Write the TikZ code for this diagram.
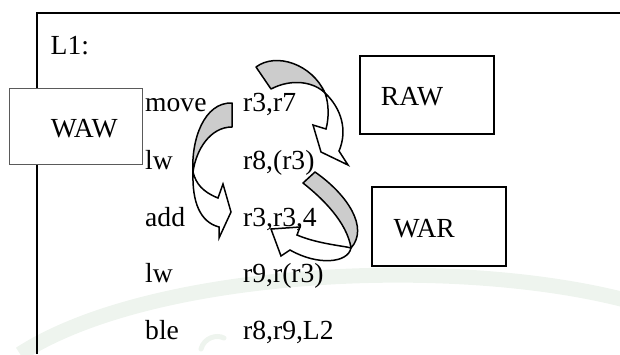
\documentclass[tikz,border=0pt]{standalone}
\usepackage{fontspec}
\setmainfont{Liberation Serif}
\definecolor{band}{RGB}{204,204,204}
\definecolor{wmark}{RGB}{238,244,238}
\definecolor{thinframe}{RGB}{90,90,90}
\begin{document}
\begin{tikzpicture}[x=1pt,y=-1pt,
  txt/.style={anchor=base west,inner sep=0pt,font=\fontsize{27.6}{32}\selectfont},
  tagbox/.style={draw=black,fill=white,line width=2pt,inner sep=0pt},
  backface/.style={draw=black,fill=band,line width=1.5pt,line join=round},
  frontface/.style={draw=black,fill=white,line width=1.5pt,line join=miter}]
\useasboundingbox (0,0) rectangle (620,354);

% faint background swirl
\draw[wmark,line width=15pt] (20,354) .. controls (150,270) and (450,255) .. (625,300);
\draw[wmark,line width=5pt,line cap=round] (201,349) .. controls (204,338) and (216,334) .. (224,338);

% outer frame (open to the right and bottom)
\draw[line width=2.2pt] (620,13.3) -- (36.7,13.3) -- (36.7,354);

% dependency boxes
\node[draw=thinframe,fill=white,line width=1pt,inner sep=0pt,
      minimum width=133pt,minimum height=76pt] (wawbox) at (75.5,126) {};
\node[tagbox,minimum width=134pt,minimum height=78pt] (rawbox) at (427,95) {};
\node[tagbox,minimum width=134pt,minimum height=79pt] (warbox) at (439,226.5) {};

% WAW arrow: move -> add
\path[backface] (232,103) -- (232,127) .. controls (210,127) and (196,150) .. (193,172)
  .. controls (191,140) and (204,102) .. cycle;
\path[frontface] (193,172) .. controls (192,202) and (200,222) .. (219,227)
  -- (219,238) -- (231,212) -- (223,184) -- (218,198)
  .. controls (203,192) and (196,184) .. cycle;

% RAW arrow: move -> lw
\path[backface] (256,67) -- (271,89) .. controls (292,78) and (314,82) .. (325,93)
  .. controls (312,64) and (276,52) .. cycle;
\path[frontface] (325,93) .. controls (341,108) and (348,130) .. (339,151)
  -- (348,165) -- (321,152) -- (313,125) -- (326,129)
  .. controls (329,118) and (329,104) .. cycle;

% WAR arrow: lw -> add
\path[backface] (303,183) -- (315,172) .. controls (348,195) and (369,228) .. (351,248)
  .. controls (347,222) and (322,198) .. cycle;
\path[frontface] (351,248) .. controls (348,263) and (318,266) .. (290,250)
  -- (281,256) -- (271,229) -- (300,227) -- (297,235)
  .. controls (318,244) and (345,246) .. cycle;

% labels
\node[txt] (lbl) at (50.5,54) {L1:};
\node[txt] (waw) at (50.7,137.7) {WAW};
\node[txt] (raw) at (380.7,105.7) {RAW};
\node[txt] (war) at (393.3,237.7) {WAR};

% instructions
\node[txt] (op1) at (145,111) {move};
\node[txt] (op2) at (145,169) {lw};
\node[txt] (op3) at (145,226) {add};
\node[txt] (op4) at (145,282.5) {lw};
\node[txt] (op5) at (145,339.5) {ble};
\node[txt] (arg1) at (243,111) {r3,r7};
\node[txt] (arg2) at (243,169) {r8,(r3)};
\node[txt] (arg3) at (243,226) {r3,r3,4};
\node[txt] (arg4) at (243,282.5) {r9,r(r3)};
\node[txt] (arg5) at (243,339.5) {r8,r9,L2};
\end{tikzpicture}
\end{document}
